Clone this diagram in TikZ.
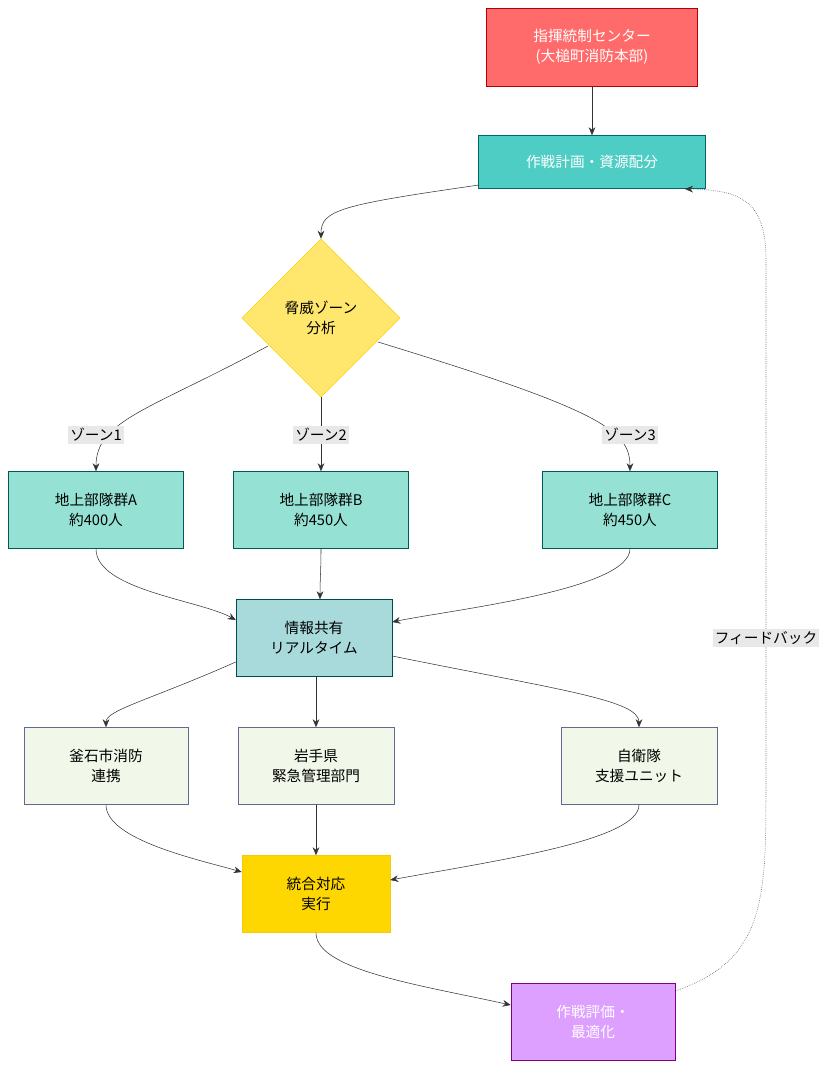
\documentclass[tikz,border=0pt]{standalone}
\usepackage{fontspec}
\setmainfont{Noto Sans CJK JP}
\usetikzlibrary{shapes.geometric, arrows.meta}
\definecolor{cmdred}{HTML}{FF6B6B}
\definecolor{planteal}{HTML}{4ECDC4}
\definecolor{zoneyel}{HTML}{FFE66D}
\definecolor{unitgrn}{HTML}{95E1D3}
\definecolor{infoblu}{HTML}{A8DADC}
\definecolor{partner}{HTML}{F1F8E9}
\definecolor{execgold}{HTML}{FFD700}
\definecolor{evalvio}{HTML}{DDA0FF}
\definecolor{lblgray}{HTML}{E8E8E8}
\tikzset{box/.style 2 args={draw,rectangle,align=center,minimum width=#1*0.75pt,minimum height=#2*0.75pt,inner sep=0pt},
         unit/.style={box={175}{77},fill=unitgrn,draw=teal!70!black},
         ally/.style={box={#1}{77},fill=partner,draw=black!70!blue!60},
         zlabel/.style={fill=lblgray,inner sep=1.5pt},
         link/.style={-{Stealth[length=6pt,width=5pt]},draw=black!80},
        }

\begin{document}
\begin{tikzpicture}[x=0.75pt,y=-0.75pt,font=\fontsize{11}{15}\selectfont]
        \useasboundingbox (0,0) rectangle (830,1070);
        \node[box={211}{78},fill=cmdred,draw=red!70!black,text=white](center)at(592,47){指揮統制センター\\(大槌町消防本部)};
        \node[box={227}{53},fill=planteal,draw=teal!80!black,text=white](plan)at(592,162){作戦計画・資源配分};
        \node[diamond,draw=yellow!70!orange,fill=zoneyel,minimum width=118.5pt,minimum height=118.5pt,inner sep=0pt,align=center](zone)at(321,318){脅威ゾーン\\分析};

        \node[unit](grpA)at(96,510){地上部隊群A\\約400人};
        \node[unit](grpB)at(321,510){地上部隊群B\\約450人};
        \node[unit](grpC)at(630,510){地上部隊群C\\約450人};

        \node[box={156}{77},fill=infoblu,draw=teal!60!black](info)at(314,638){情報共有\\リアルタイム};

        \node[ally=164](kama)at(106,766){釜石市消防\\連携};
        \node[ally=156](iwate)at(316,766){岩手県\\緊急管理部門};
        \node[ally=156](sdf)at(639,766){自衛隊\\支援ユニット};

        \node[box={148}{77},fill=execgold,draw=yellow!60!orange](exec)at(316,894){統合対応\\実行};
        \node[box={164}{77},fill=evalvio,draw=violet,text=white](eval)at(593,1022){作戦評価・\\最適化};

        \coordinate(planout)at(479,185);
        \coordinate(planin)at(685,189);
        \coordinate(zoneA)at(268,346);
        \coordinate(zoneC)at(378,342);
        \coordinate(evalout)at(675,991);

        \draw[link](center)--(plan);
        \draw[link](planout) .. controls (340,205) and (321,210) .. (zone.north);

        \draw[link](zoneA) .. controls (150,410) and (96,420) .. (grpA.north);
        \draw[link](zone.south)--(grpB.north);
        \draw[link](zoneC) .. controls (600,410) and (630,430) .. (grpC.north);
        \node[zlabel](z1)at(96,435){ゾーン1};
        \node[zlabel](z2)at(321,435){ゾーン2};
        \node[zlabel](z3)at(630,435){ゾーン3};

        \draw[link](grpA.south) .. controls (96,590) and (200,600) .. (info.west|-0,620);
        \draw[link](grpB.south) .. controls (321,570) and (320,580) .. (info.north-|320,0);
        \draw[link](grpC.south) .. controls (630,590) and (450,610) .. (info.east|-0,622);

        \draw[link](info.west|-0,662) .. controls (150,700) and (106,710) .. (kama.north);
        \draw[link](info.south-|316,0)--(iwate.north);
        \draw[link](info.east|-0,656) .. controls (560,690) and (639,700) .. (sdf.north);

        \draw[link](kama.south) .. controls (106,840) and (200,860) .. (exec.west|-0,872);
        \draw[link](iwate.south)--(exec.north);
        \draw[link](sdf.south) .. controls (639,840) and (500,860) .. (exec.east|-0,880);

        \draw[link](exec.south) .. controls (316,970) and (420,985) .. (eval.west|-0,1005);

        \draw[link,densely dotted](evalout) .. controls (766,960) and (766,900) .. (766,780)
            -- (766,260) .. controls (766,200) and (740,190) .. (planin);
        \node[zlabel](fb)at(766,638){フィードバック};
\end{tikzpicture}
\end{document}
